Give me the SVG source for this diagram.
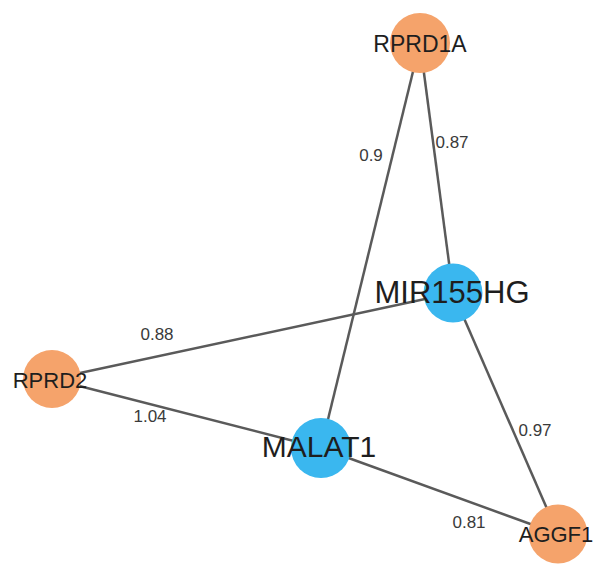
<svg xmlns="http://www.w3.org/2000/svg" width="607" height="581" viewBox="0 0 607 581">
<style>
.edge{stroke:#5a5a5a;stroke-width:2.5;fill:none}
.el{font-family:"Liberation Sans",Arial,sans-serif;font-size:17px;fill:#3a3a3a;text-anchor:middle}
.nl{font-family:"Liberation Sans",Arial,sans-serif;fill:#1e1e1e;text-anchor:middle}
.org{fill:#F5A36B}
.blu{fill:#3AB7EF}
</style>
<rect width="607" height="581" fill="#ffffff"/>
<g id="edges">
<line class="edge" x1="420" y1="43" x2="453" y2="293"/>
<line class="edge" x1="420" y1="43" x2="321" y2="448"/>
<line class="edge" x1="453" y1="293" x2="52" y2="379"/>
<line class="edge" x1="453" y1="293" x2="558" y2="534"/>
<line class="edge" x1="52" y1="379" x2="321" y2="448"/>
<line class="edge" x1="321" y1="448" x2="558" y2="534"/>
<text class="el" x="452" y="148">0.87</text>
<text class="el" x="371" y="161">0.9</text>
<text class="el" x="157" y="340">0.88</text>
<text class="el" x="150" y="422">1.04</text>
<text class="el" x="535" y="436">0.97</text>
<text class="el" x="469" y="528">0.81</text>
</g>
<g id="RPRD1A"><circle class="org" cx="420" cy="43" r="30"/><text class="nl" x="420" y="52" font-size="23">RPRD1A</text></g>
<g id="MIR155HG"><circle class="blu" cx="453" cy="293" r="29.5"/><text class="nl" x="452" y="303" font-size="31">MIR155HG</text></g>
<g id="RPRD2"><circle class="org" cx="52" cy="379" r="29"/><text class="nl" x="50" y="388" font-size="22">RPRD2</text></g>
<g id="MALAT1"><circle class="blu" cx="321" cy="448" r="30"/><text class="nl" x="319" y="457" font-size="30">MALAT1</text></g>
<g id="AGGF1"><circle class="org" cx="558" cy="534" r="29.5"/><text class="nl" x="556" y="542" font-size="22">AGGF1</text></g>
</svg>
